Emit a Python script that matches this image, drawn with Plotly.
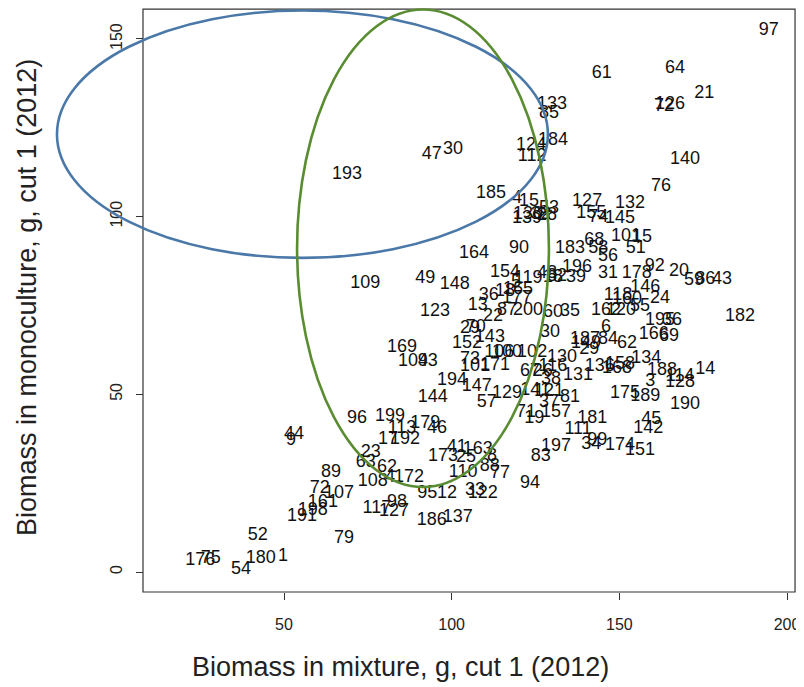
import plotly.graph_objects as go

# ---- data (plot id, biomass in mixture, biomass in monoculture) ----
labels = ["97","61","64","72","126","21","133","85","184","124","112","47","30","193","140","76",
          "185","4","15","53","139","130","32","28","127","155","74","145","132","183","68","58",
          "56","101","15","51","164","90","154","119","48","82","18","196","39","31","178","92",
          "20","59","86","43","146","118","160","24","162","120","55","195","36","182","166","69",
          "6","187","84","62","149","29","130","134","158","136","168","131","116","188","14","114",
          "128","3","175","189","190","45","142","181","111","99","34","174","151","197","83","94",
          "77","88","8","163","41","173","25","110","95","12","33","122","186","137","1","180",
          "54","52","176","75","79","191","198","161","72","107","89","44","9","96","199","113",
          "179","46","17","192","23","63","62","108","4","172","98","117","127","144","194","147",
          "57","129","169","104","93","73","101","171","152","29","70","143","106","100","102","26",
          "67","38","141","121","37","81","157","71","19","30","60","35","200","87","13","36",
          "22","18","165","177","148","49","109","123","5"]
mixture = [194.6,144.8,166.6,163.3,165.1,175.3,129.9,129.0,130.2,123.7,124.0,94.1,100.4,68.8,169.6,162.4,
           111.7,119.5,123.1,129.0,122.5,122.8,126.6,128.4,140.4,141.6,143.7,150.2,153.2,135.3,142.5,143.7,
           146.6,152.0,156.8,154.9,106.7,120.1,115.9,122.8,128.4,131.4,130.2,137.4,137.1,146.6,155.2,160.6,
           167.8,172.3,175.6,180.6,157.7,149.6,152.3,162.1,146.0,150.5,156.2,162.1,165.7,186.0,160.3,164.8,
           146.0,139.8,146.6,152.3,140.1,141.0,132.9,158.0,150.2,144.2,149.3,137.7,130.2,162.7,175.6,168.1,
           168.1,159.2,151.7,157.7,169.6,159.5,158.6,141.9,137.7,143.4,141.6,150.2,156.2,131.1,126.6,123.4,
           114.4,111.4,112.0,107.8,101.5,97.4,104.3,103.4,92.7,98.6,107.0,109.3,94.1,101.8,49.7,43.1,
           37.2,42.2,25.0,28.2,67.9,55.4,58.6,61.6,60.7,66.4,64.0,53.0,52.1,71.8,81.6,85.2,
           92.1,95.6,81.0,86.1,75.9,74.4,80.7,76.5,81.6,87.3,83.7,77.7,82.8,94.4,100.1,107.5,
           110.5,116.5,85.2,88.5,92.9,105.5,107.0,112.9,104.6,105.5,107.2,111.4,114.2,116.5,124.0,127.2,
           123.4,129.6,124.9,129.0,129.0,135.3,131.1,122.2,124.6,129.3,130.2,135.3,122.8,116.5,107.8,111.1,
           112.3,115.9,119.8,119.5,100.9,92.1,74.2,95.0,119.2]
monoculture = [152.3,140.2,141.6,131.1,131.7,134.8,131.7,128.9,121.3,119.9,116.8,117.4,118.8,112.0,116.2,108.6,
               106.4,105.0,104.4,102.4,99.6,100.5,100.5,100.2,104.4,101.0,99.9,99.6,103.8,90.9,93.2,90.9,
               88.9,94.3,94.0,90.9,89.5,90.9,84.4,82.7,84.1,83.3,83.0,85.6,83.0,83.9,83.9,86.1,
               84.7,81.9,82.2,82.2,80.2,77.7,76.8,77.1,73.7,73.5,74.6,70.9,70.9,71.8,66.7,66.4,
               68.7,65.3,65.3,64.2,64.2,62.5,60.5,60.2,58.5,57.7,57.4,55.4,57.7,56.8,57.1,54.9,
               53.2,53.5,50.1,49.5,47.0,42.8,40.5,43.3,40.0,37.1,36.0,35.5,34.3,35.2,32.6,25.0,
               27.6,29.8,32.6,34.6,34.9,32.4,32.1,27.9,22.2,22.0,22.8,22.0,14.4,15.2,4.5,3.7,
               0.6,10.4,3.1,3.9,9.3,15.5,17.4,19.7,23.6,22.0,27.9,38.8,37.1,43.3,43.9,40.5,
               41.7,40.5,37.4,37.4,33.5,30.7,29.5,25.6,26.7,26.5,19.7,18.0,16.9,49.0,53.8,52.1,
               47.6,50.1,63.3,59.1,59.1,59.7,57.7,58.0,64.4,68.4,68.9,66.1,61.9,61.9,61.9,56.3,
               56.3,54.3,51.2,50.9,47.6,49.2,45.0,45.0,43.3,67.5,72.9,73.2,73.7,73.7,75.1,77.7,
               72.0,78.8,79.4,77.1,80.8,82.5,81.1,73.2,81.6]

x_ticks = [50, 100, 150, 200]
y_ticks = [0, 50, 100, 150]

# ellipses: [x0, x1, y0, y1] bounding boxes in data units
blue_ellipse = [-17.7, 128.7, 88.4, 158.0]
green_ellipse = [53.9, 129.0, 23.9, 158.3]

# plotting region (R style box)
box_x = [7.95, 202.4]
box_y = [-5.63, 158.4]

fig = go.Figure()
fig.add_trace(go.Scatter(
    x=mixture, y=monoculture, text=labels, mode="text",
    textposition="middle center",
    textfont=dict(family="Liberation Sans, Arial, sans-serif", size=18, color="#111111"),
    cliponaxis=False, hoverinfo="skip", showlegend=False))

fig.add_shape(type="rect", xref="x", yref="y", x0=box_x[0], x1=box_x[1], y0=box_y[0], y1=box_y[1],
              line=dict(color="#333333", width=1.2), layer="below")
fig.add_shape(type="circle", xref="x", yref="y",
              x0=blue_ellipse[0], x1=blue_ellipse[1], y0=blue_ellipse[2], y1=blue_ellipse[3],
              line=dict(color="#4a78a8", width=2.6))
fig.add_shape(type="circle", xref="x", yref="y",
              x0=green_ellipse[0], x1=green_ellipse[1], y0=green_ellipse[2], y1=green_ellipse[3],
              line=dict(color="#5a8c32", width=2.6))

fig.update_layout(
    width=796, height=679,
    margin=dict(l=42, r=5, t=0, b=80),
    paper_bgcolor="white", plot_bgcolor="white",
    font=dict(family="Liberation Sans, Arial, sans-serif", color="#222222"),
    xaxis=dict(range=[-19.78, 203.58], tickvals=x_ticks, ticks="outside", ticklen=7,
               tickcolor="#333333", showgrid=False, zeroline=False, showline=False,
               anchor="free", position=0.02504, tickfont=dict(size=16, color="#222222"),
               ticklabelstandoff=11),
    yaxis=dict(range=[-9.85, 158.72], tickvals=y_ticks, ticks="outside", ticklen=7,
               tickcolor="#333333", showgrid=False, zeroline=False, showline=False,
               anchor="free", position=0.12417, tickangle=-90,
               tickfont=dict(size=16, color="#222222"), ticklabelstandoff=8),
    annotations=[
        dict(text="Biomass in mixture, g, cut 1 (2012)", xref="paper", yref="paper",
             x=0.4673, y=-0.1002, xanchor="center", yanchor="middle", showarrow=False,
             font=dict(size=27, color="#222222")),
        dict(text="Biomass in monoculture, g, cut 1 (2012)", xref="paper", yref="paper",
             x=-0.0307, y=0.5159, xanchor="center", yanchor="middle", showarrow=False,
             textangle=-90, font=dict(size=27, color="#222222")),
    ],
)

fig.write_html("out.html")
